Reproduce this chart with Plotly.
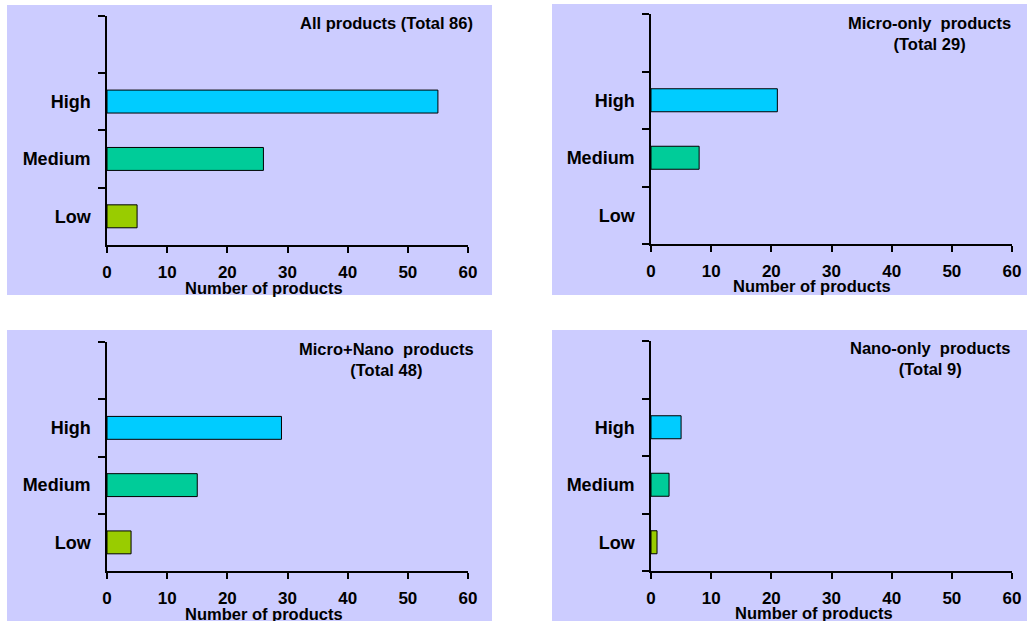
import plotly.graph_objects as go

# ---- data ----
categories = ["Low", "Medium", "High"]
bar_colors = ["#99CC00", "#00CC99", "#00CCFF"]
all_products = [5, 26, 55]
micro_only = [0, 8, 21]
micro_nano = [4, 15, 29]
nano_only = [1, 3, 5]
panel_titles = [
    "All products (Total 86)",
    "Micro-only\u00a0 products<br>(Total 29)",
    "Micro+Nano\u00a0 products<br>(Total 48)",
    "Nano-only\u00a0 products<br>(Total 9)",
]
x_ticks = [0, 10, 20, 30, 40, 50, 60]
axis_title = "Number of products"

series = [all_products, micro_only, micro_nano, nano_only]

W, H = 1027, 621
FONT = "Liberation Sans, Arial, sans-serif"

# panel geometry in pixels (left, right, top, bottom) of plot areas
plot_px = [
    (107, 468, 15.5, 245),
    (651, 1012, 14, 244),
    (107, 468, 342, 571),
    (651, 1012, 341, 571),
]
# panel background boxes (left, right, top, bottom)
bg_px = [
    (7, 492, 5, 295),
    (552, 1027, 4, 295),
    (7, 492, 330, 621),
    (552, 1027, 330, 621),
]
title_px = [(475, 23), (1013, 33), (476, 359), (1012, 358)]
axtitle_px = [(264, 288), (812, 286), (264, 614), (814, 613)]

fig = go.Figure()
empty_cat = " "
ycats = categories + [empty_cat]

for i, vals in enumerate(series):
    n = i + 1
    xa = "x" if n == 1 else f"x{n}"
    ya = "y" if n == 1 else f"y{n}"
    fig.add_trace(go.Bar(
        x=[v if v else None for v in vals] + [None],
        y=ycats,
        orientation="h",
        marker=dict(color=bar_colors + ["#FFFFFF"], line=dict(color="black", width=1)),
        xaxis=xa, yaxis=ya, showlegend=False, hoverinfo="x+y",
    ))
    l, r, t, b = plot_px[i]
    xdom = [l / W, r / W]
    ydom = [1 - b / H, 1 - t / H]
    xkey = "xaxis" if n == 1 else f"xaxis{n}"
    ykey = "yaxis" if n == 1 else f"yaxis{n}"
    fig.update_layout(**{
        xkey: dict(
            domain=xdom, anchor=ya, range=[0, 60], tickvals=x_ticks,
            ticks="outside", ticklen=6, tickwidth=1.5, tickcolor="black",
            showline=True, linecolor="black", linewidth=1.5, automargin=False,
            showgrid=False, zeroline=False, ticklabelstandoff=5,
            tickfont=dict(family=FONT, size=17, color="black", weight="bold"),
        ),
        ykey: dict(
            domain=ydom, anchor=xa, type="category", automargin=False,
            categoryorder="array", categoryarray=ycats, range=[-0.5, 3.5],
            tickson="boundaries", ticks="outside", ticklen=7, tickwidth=1.5,
            tickcolor="black", showline=True, linecolor="black", linewidth=1.5,
            showgrid=False, zeroline=False, ticklabelstandoff=11,
            tickfont=dict(family=FONT, size=18, color="black", weight="bold"),
        ),
    })
    bl, br, bt, bb = bg_px[i]
    fig.add_shape(type="rect", xref="paper", yref="paper",
                  x0=bl / W, x1=br / W, y0=1 - bb / H, y1=1 - bt / H,
                  fillcolor="#CCCCFF", line=dict(width=0), layer="below")
    tx, ty = title_px[i]
    fig.add_annotation(text=panel_titles[i], xref="paper", yref="paper",
                       x=tx / W, y=1 - ty / H, xanchor="right", yanchor="middle",
                       align="center", showarrow=False,
                       font=dict(family=FONT, size=16.5, color="black", weight="bold"))
    ax, ay = axtitle_px[i]
    fig.add_annotation(text=axis_title, xref="paper", yref="paper",
                       x=ax / W, y=1 - ay / H, xanchor="center", yanchor="middle",
                       showarrow=False,
                       font=dict(family=FONT, size=16.5, color="black", weight="bold"))

fig.update_layout(
    width=W, height=H, margin=dict(l=0, r=0, t=0, b=0),
    paper_bgcolor="white", plot_bgcolor="rgba(0,0,0,0)",
    bargap=0.6,
)

fig.write_html(
    "out.html",
    config={"displayModeBar": False},
    post_script="document.body.style.margin='0';document.body.style.overflow='hidden';",
)
